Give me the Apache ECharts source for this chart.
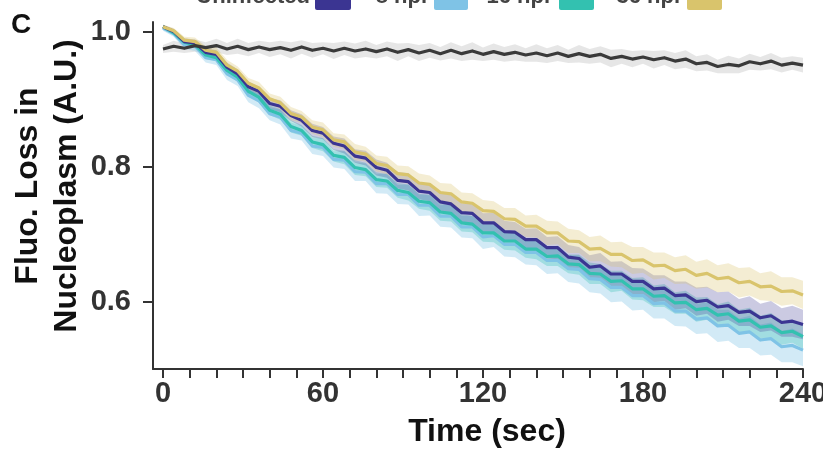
<!DOCTYPE html>
<html><head><meta charset="utf-8">
<script src="https://cdn.jsdelivr.net/npm/echarts@6/dist/echarts.min.js"></script>
<style>html,body{margin:0;padding:0;background:#fff}#c{width:823px;height:451px}</style>
</head><body><div id="c"></div>
<script>
const time = [0,4,8,12,16,20,24,28,32,36,40,44,48,52,56,60,64,68,72,76,80,84,88,92,96,100,104,108,112,116,120,124,128,132,136,140,144,148,152,156,160,164,168,172,176,180,184,188,192,196,200,204,208,212,216,220,224,228,232,236,240];

const uninfected = [0.975,0.979,0.976,0.980,0.977,0.980,0.975,0.979,0.974,0.978,0.974,0.977,0.973,0.978,0.973,0.976,0.972,0.976,0.972,0.975,0.971,0.975,0.970,0.974,0.969,0.973,0.968,0.973,0.968,0.972,0.967,0.971,0.967,0.970,0.966,0.969,0.965,0.969,0.964,0.968,0.964,0.967,0.961,0.964,0.960,0.963,0.959,0.962,0.957,0.960,0.953,0.955,0.949,0.952,0.950,0.956,0.953,0.957,0.951,0.954,0.951];
const sdUninfected = [0.006,0.008,0.007,0.009,0.008,0.010,0.009,0.011,0.010,0.009,0.011,0.010,0.012,0.010,0.011,0.009,0.012,0.010,0.011,0.012,0.010,0.011,0.013,0.010,0.012,0.011,0.010,0.012,0.011,0.013,0.010,0.012,0.011,0.012,0.010,0.013,0.011,0.012,0.010,0.013,0.011,0.012,0.013,0.011,0.012,0.010,0.013,0.011,0.012,0.013,0.011,0.012,0.010,0.013,0.011,0.012,0.010,0.012,0.011,0.010,0.011];

const navy = [1.008,1.001,0.986,0.984,0.970,0.967,0.948,0.938,0.919,0.912,0.894,0.890,0.876,0.869,0.854,0.850,0.835,0.831,0.816,0.813,0.799,0.795,0.780,0.778,0.764,0.762,0.748,0.745,0.732,0.731,0.717,0.717,0.704,0.703,0.692,0.692,0.680,0.680,0.666,0.664,0.651,0.653,0.641,0.641,0.630,0.630,0.619,0.620,0.609,0.610,0.600,0.602,0.592,0.594,0.584,0.586,0.576,0.579,0.569,0.571,0.566];
const sdNavy = [0.003,0.004,0.005,0.005,0.006,0.006,0.007,0.007,0.008,0.007,0.008,0.009,0.008,0.009,0.010,0.009,0.010,0.011,0.010,0.011,0.012,0.011,0.012,0.013,0.012,0.013,0.014,0.013,0.014,0.015,0.014,0.015,0.016,0.015,0.016,0.017,0.016,0.017,0.018,0.017,0.018,0.019,0.018,0.019,0.020,0.019,0.020,0.019,0.021,0.020,0.021,0.020,0.022,0.021,0.020,0.022,0.021,0.022,0.021,0.023,0.022];

const lightBlue = [1.006,0.998,0.981,0.979,0.962,0.959,0.938,0.929,0.906,0.898,0.879,0.874,0.854,0.850,0.831,0.829,0.811,0.810,0.793,0.792,0.775,0.775,0.759,0.759,0.743,0.743,0.727,0.727,0.711,0.711,0.696,0.698,0.685,0.685,0.673,0.673,0.661,0.661,0.649,0.648,0.634,0.633,0.621,0.621,0.609,0.609,0.597,0.598,0.586,0.586,0.574,0.576,0.564,0.565,0.553,0.555,0.543,0.545,0.533,0.535,0.528];
const sdLightBlue = [0.004,0.005,0.006,0.007,0.007,0.008,0.009,0.009,0.010,0.011,0.010,0.011,0.012,0.011,0.012,0.013,0.012,0.013,0.014,0.013,0.014,0.015,0.014,0.015,0.016,0.015,0.016,0.017,0.016,0.017,0.018,0.017,0.018,0.019,0.018,0.019,0.020,0.019,0.020,0.021,0.020,0.021,0.022,0.021,0.022,0.021,0.022,0.023,0.022,0.023,0.022,0.023,0.024,0.023,0.022,0.024,0.023,0.024,0.023,0.025,0.024];

const teal = [1.008,0.999,0.985,0.981,0.966,0.962,0.943,0.933,0.912,0.903,0.884,0.878,0.860,0.854,0.837,0.833,0.817,0.814,0.799,0.796,0.781,0.779,0.765,0.762,0.749,0.747,0.733,0.731,0.717,0.715,0.702,0.702,0.690,0.690,0.678,0.678,0.667,0.668,0.656,0.655,0.642,0.641,0.630,0.631,0.619,0.619,0.608,0.609,0.598,0.599,0.588,0.590,0.580,0.582,0.571,0.573,0.562,0.564,0.554,0.556,0.548];
const sdTeal = [0.003,0.004,0.004,0.005,0.006,0.005,0.006,0.007,0.007,0.008,0.007,0.008,0.009,0.008,0.009,0.010,0.009,0.010,0.011,0.010,0.011,0.010,0.011,0.012,0.011,0.012,0.013,0.012,0.013,0.012,0.013,0.014,0.013,0.014,0.013,0.015,0.014,0.015,0.014,0.015,0.016,0.015,0.016,0.015,0.016,0.017,0.016,0.017,0.016,0.017,0.018,0.017,0.016,0.018,0.017,0.018,0.017,0.019,0.018,0.017,0.018];

const yellow = [1.008,1.002,0.988,0.986,0.973,0.970,0.951,0.942,0.924,0.917,0.901,0.895,0.879,0.874,0.859,0.855,0.840,0.837,0.822,0.819,0.805,0.802,0.790,0.788,0.776,0.774,0.762,0.760,0.748,0.746,0.735,0.734,0.723,0.722,0.712,0.712,0.702,0.702,0.690,0.689,0.678,0.679,0.670,0.670,0.661,0.662,0.653,0.654,0.646,0.648,0.639,0.642,0.634,0.636,0.628,0.630,0.622,0.623,0.615,0.616,0.610];
const sdYellow = [0.003,0.004,0.005,0.006,0.006,0.007,0.008,0.007,0.008,0.009,0.008,0.009,0.010,0.009,0.010,0.011,0.010,0.011,0.012,0.011,0.012,0.013,0.012,0.013,0.014,0.013,0.014,0.015,0.014,0.015,0.016,0.015,0.016,0.017,0.016,0.017,0.018,0.017,0.018,0.017,0.018,0.019,0.018,0.019,0.020,0.019,0.020,0.019,0.020,0.021,0.020,0.021,0.020,0.021,0.022,0.021,0.020,0.022,0.021,0.020,0.021];

const xTicks = [0,10,20,30,40,50,60,70,80,90,100,110,120,130,140,150,160,170,180,190,200,210,220,230,240];
const xLabels = [0,60,120,180,240];
const yLabels = [0.6,0.8,1.0];
const legendNames = ['Uninfected','8 hpi','16 hpi','36 hpi'];

const FONT = '"Liberation Sans", Arial, Helvetica, sans-serif';
const INK = '#333333';
const colors = {
  uninfected: '#3a3a3a', navy: '#3b3592', lightBlue: '#7fc3e6', teal: '#33c1b0', yellow: '#d9c46c'
};
const bandColors = {
  uninfected: 'rgba(200,200,200,0.45)', navy: 'rgba(70,64,150,0.28)', lightBlue: 'rgba(127,195,230,0.35)',
  teal: 'rgba(51,193,176,0.30)', yellow: 'rgba(217,196,108,0.30)'
};

function pts(vals) { return time.map((t, i) => [t, vals[i]]); }
function band(name, vals, sd) {
  return {
    type: 'custom', name: name + ' band', silent: true, z: 1, data: [[0, 0.8]],
    renderItem: function (params, api) {
      const up = [], lo = [];
      for (let i = 0; i < time.length; i++) {
        up.push(api.coord([time[i], vals[i] + sd[i]]));
        lo.push(api.coord([time[i], vals[i] - sd[i]]));
      }
      return { type: 'polygon', shape: { points: up.concat(lo.reverse()) }, style: { fill: bandColors[name] } };
    }
  };
}
function line(name, vals) {
  return {
    type: 'line', name: name, data: pts(vals), showSymbol: false, symbol: 'none', z: 3,
    lineStyle: { color: colors[name], width: 3.2, join: 'round' }, animation: false
  };
}

const chart = echarts.init(document.getElementById('c'));
const swatches = [[315, 351, colors.navy], [434, 468, colors.lightBlue], [559, 594, colors.teal], [687, 722, colors.yellow]];
const textEnds = [310, 427, 550, 680];
const graphic = [];
legendNames.forEach((n, i) => {
  graphic.push({ type: 'text', x: textEnds[i], y: 8, style: { text: n, align: 'right', verticalAlign: 'bottom', font: 'bold 22px ' + FONT, fill: '#444' } });
});
swatches.forEach(s => {
  graphic.push({ type: 'rect', shape: { x: s[0], y: -12, width: s[1] - s[0], height: 22, r: 2 }, style: { fill: s[2] } });
});
graphic.push({ type: 'text', x: 21, y: 25, style: { text: 'C', align: 'center', verticalAlign: 'middle', font: 'bold 28px ' + FONT, fill: '#111' } });
graphic.push({ type: 'text', x: 487, y: 432, style: { text: 'Time (sec)', align: 'center', verticalAlign: 'middle', font: 'bold 32px ' + FONT, fill: '#111' } });
graphic.push({ type: 'text', x: 28, y: 186, rotation: Math.PI / 2, style: { text: 'Fluo. Loss in', align: 'center', verticalAlign: 'middle', font: 'bold 32px ' + FONT, fill: '#111' } });
graphic.push({ type: 'text', x: 67, y: 186, rotation: Math.PI / 2, style: { text: 'Nucleoplasm (A.U.)', align: 'center', verticalAlign: 'middle', font: 'bold 32px ' + FONT, fill: '#111' } });

chart.setOption({
  animation: false,
  backgroundColor: '#fff',
  grid: { left: 153, right: 20, top: 22, bottom: 82, containLabel: false, outerBoundsMode: 'none' },
  xAxis: {
    type: 'value', min: -3.75, max: 240,
    axisLine: { show: true, onZero: false, lineStyle: { color: INK, width: 2 } },
    axisTick: { show: true, length: 9, customValues: xTicks, lineStyle: { color: INK, width: 2 } },
    axisLabel: { customValues: xLabels, fontSize: 29, fontWeight: 'bold', fontFamily: FONT, color: INK, margin: 10 },
    splitLine: { show: false }
  },
  yAxis: {
    type: 'value', min: 0.5, max: 1.015,
    axisLine: { show: true, onZero: false, lineStyle: { color: INK, width: 2 } },
    axisTick: { show: true, length: 10, customValues: yLabels, lineStyle: { color: INK, width: 2 } },
    axisLabel: { customValues: yLabels, formatter: v => v.toFixed(1), fontSize: 29, fontWeight: 'bold', fontFamily: FONT, color: INK, margin: 22 },
    splitLine: { show: false }
  },
  graphic: graphic,
  series: [
    band('uninfected', uninfected, sdUninfected),
    band('lightBlue', lightBlue, sdLightBlue),
    band('teal', teal, sdTeal),
    band('navy', navy, sdNavy),
    band('yellow', yellow, sdYellow),
    line('lightBlue', lightBlue),
    line('teal', teal),
    line('navy', navy),
    line('yellow', yellow),
    line('uninfected', uninfected)
  ]
});
</script></body></html>
